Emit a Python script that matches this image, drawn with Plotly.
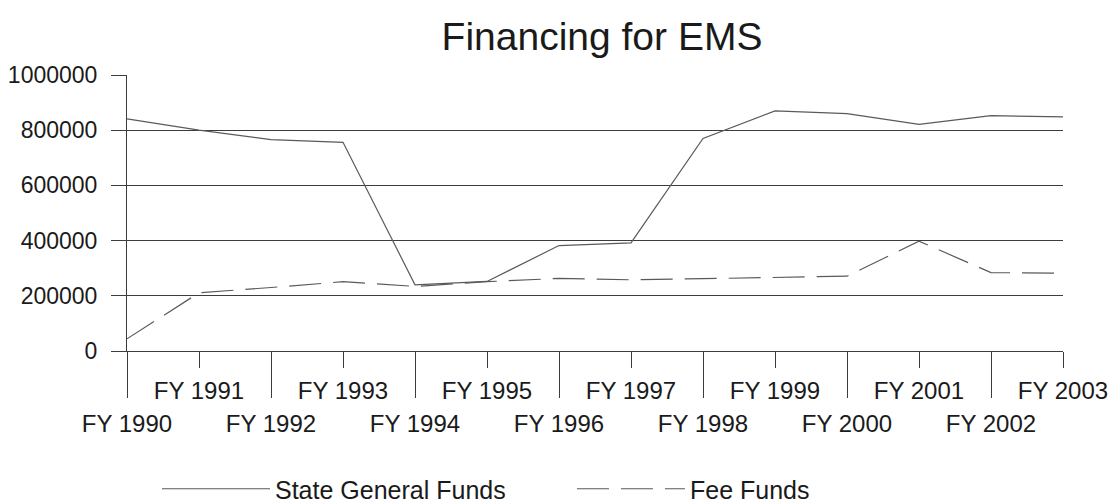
import plotly.graph_objects as go

years = [1990, 1991, 1992, 1993, 1994, 1995, 1996, 1997, 1998, 1999, 2000, 2001, 2002, 2003]
year_labels = ["FY 1990", "FY 1991", "FY 1992", "FY 1993", "FY 1994", "FY 1995", "FY 1996",
               "FY 1997", "FY 1998", "FY 1999", "FY 2000", "FY 2001", "FY 2002", "FY 2003"]
state_general_funds = [841000, 800000, 766000, 756000, 240000, 252000, 382000,
                       392000, 770000, 870000, 860000, 821000, 853000, 848000]
fee_funds = [44000, 211000, 230000, 251000, 234000, 251000, 263000,
             258000, 262000, 267000, 271000, 398000, 284000, 282000]
y_ticks = [0, 200000, 400000, 600000, 800000, 1000000]

FONT = "Liberation Sans, Arial, sans-serif"
INK = "#1a1a1a"
AXIS = "#3c3c3c"
LINE = "#5a5a5a"

# the page body adds an 8px offset; the figure is sized to fit inside the window
W, H = 1109, 496
ML, MR, MT, MB = 119, 54, 67, 153
PW, PH = W - ML - MR, H - MT - MB

odd_years = [y for i, y in enumerate(years) if i % 2 == 1]
odd_labels = [l for i, l in enumerate(year_labels) if i % 2 == 1]
even_years = [y for i, y in enumerate(years) if i % 2 == 0]
even_labels = [l for i, l in enumerate(year_labels) if i % 2 == 0]

fig = go.Figure()
fig.add_trace(go.Scatter(x=years, y=state_general_funds, mode="lines",
                         name="State General Funds",
                         line=dict(color=LINE, width=1.2)))
fig.add_trace(go.Scatter(x=years, y=fee_funds, mode="lines", name="Fee Funds",
                         line=dict(color=LINE, width=1.2, dash="32px,12px")))
# carrier for the second (even-year) tick row
fig.add_trace(go.Scatter(x=years, y=[None] * len(years), xaxis="x2", mode="lines",
                         showlegend=False, hoverinfo="skip"))

ITEMW = 108
fig.update_layout(
    width=W, height=H,
    paper_bgcolor="white", plot_bgcolor="white",
    font=dict(family=FONT, color=INK, size=24),
    margin=dict(l=ML, r=MR, t=MT, b=MB, autoexpand=False),
    title=dict(text="Financing for EMS", x=594 / W, xanchor="center",
               y=1 - 28 / H, yanchor="middle", yref="container",
               font=dict(size=39, family=FONT, color=INK)),
    xaxis=dict(range=[years[0], years[-1]], tickmode="array",
               tickvals=odd_years, ticktext=odd_labels,
               ticks="outside", ticklen=16, tickwidth=1, tickcolor=AXIS,
               showline=True, linecolor=AXIS, linewidth=1,
               showgrid=False, zeroline=False, ticklabelstandoff=2,
               tickfont=dict(size=24)),
    xaxis2=dict(range=[years[0], years[-1]], overlaying="x", anchor="y", side="bottom",
                tickmode="array", tickvals=even_years, ticktext=even_labels,
                ticks="outside", ticklen=46, tickwidth=1, tickcolor=AXIS,
                showline=False, showgrid=False, zeroline=False, ticklabelstandoff=5,
                tickfont=dict(size=24)),
    yaxis=dict(range=[0, 1000000], tickmode="array", tickvals=y_ticks, tickformat="d",
               ticks="outside", ticklen=15, tickwidth=1, tickcolor=AXIS,
               showline=True, linecolor=AXIS, linewidth=1,
               showgrid=True, gridcolor=AXIS, gridwidth=1, zeroline=False,
               ticklabelstandoff=9, tickfont=dict(size=23)),
    legend=dict(orientation="h", x=(149 - ML) / PW, xanchor="left",
                y=(H - MB - 481) / PH, yanchor="middle",
                font=dict(size=25, family=FONT, color=INK),
                itemwidth=ITEMW, entrywidth=415 - (ITEMW + 10) - 5,
                bgcolor="rgba(0,0,0,0)"),
    showlegend=True,
)

fig.write_html("out.html")
